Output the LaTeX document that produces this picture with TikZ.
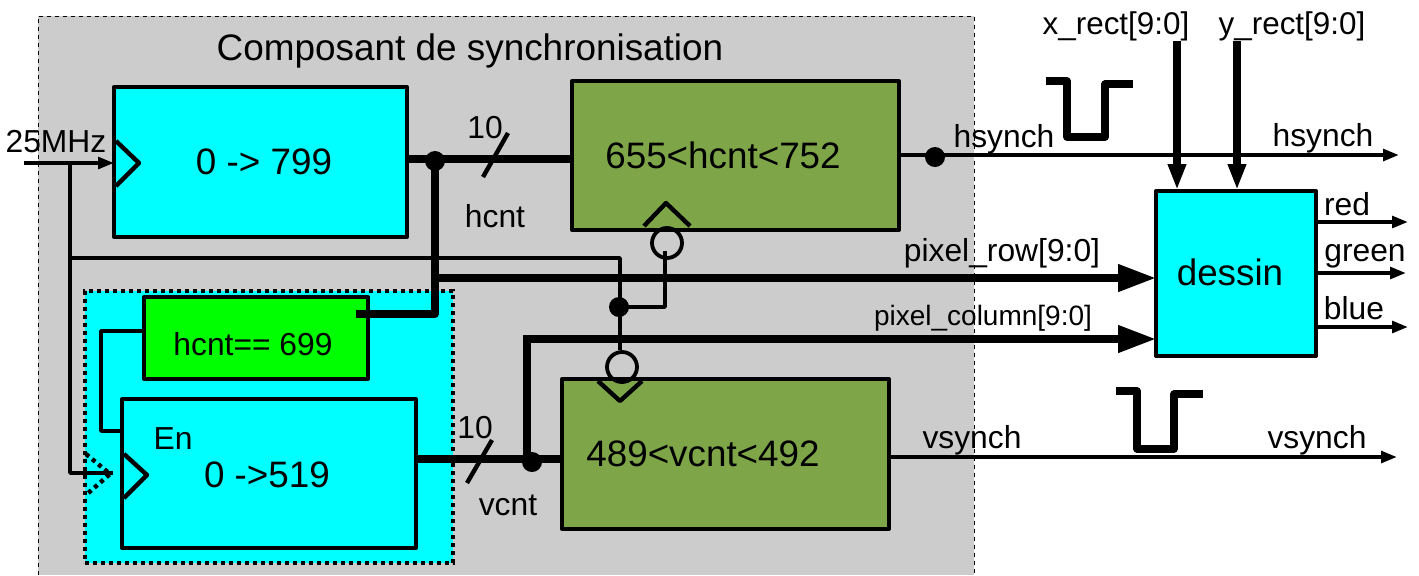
\documentclass[tikz,border=0pt]{standalone}
\usepackage{fontspec}
\setmainfont{Liberation Sans}
\usetikzlibrary{arrows.meta}
\definecolor{cyanb}{RGB}{0,255,255}
\definecolor{greyb}{RGB}{204,204,204}
\definecolor{oliveb}{RGB}{126,166,72}
\definecolor{greenb}{RGB}{0,255,0}
\begin{document}
\begin{tikzpicture}[x=0.5pt,y=-0.5pt,
  blk/.style={draw=black,line width=2pt,line join=round,inner sep=0pt,outer sep=0pt,anchor=north west},
  thinw/.style={line width=1.9pt,line join=round},
  midw/.style={line width=2.2pt,line join=round},
  busw/.style={line width=3.7pt,line join=round},
  sig/.style={line width=1.9pt,-{Stealth[length=8pt,width=5.8pt,inset=0pt]}},
  bigsig/.style={line width=3.7pt,-{Stealth[length=19pt,width=13pt,inset=0pt]}},
  downsig/.style={line width=3.9pt,-{Stealth[length=13pt,width=8.5pt,inset=0pt]}},
  pulse/.style={line width=3.6pt,line join=round},
  lab/.style={inner sep=0pt,font=\fontsize{15.9pt}{18pt}\selectfont},
  big/.style={inner sep=0pt,font=\fontsize{18.4pt}{20pt}\selectfont},
  dot/.style={circle,fill=black,inner sep=0pt,minimum size=10pt},
  bub/.style={circle,draw=black,line width=1.9pt,inner sep=0pt,minimum size=15pt,fill=none}]
\useasboundingbox (0,0) rectangle (1419,575);
% backgrounds
\fill[greyb] (38,16) rectangle (974,575);
\draw[line width=0.5pt,dash pattern=on 2pt off 2pt] (38,575) -- (38,16) -- (974,16) -- (974,575);
\node[inner sep=0pt,font=\fontsize{18.45pt}{20pt}\selectfont] (title) at (470,51) {Composant de synchronisation};
\node[draw=black,line width=2pt,dash pattern=on 2pt off 2pt,fill=cyanb,inner sep=0pt,outer sep=0pt,anchor=north west,minimum width=184pt,minimum height=136pt] (en) at (85,291) {};
% blocks
\node[blk,fill=cyanb,minimum width=146.5pt,minimum height=75pt] (cnt1) at (114,87) {};
\node[blk,fill=oliveb,minimum width=163.5pt,minimum height=74.5pt] (cmp1) at (572,81) {};
\node[blk,fill=greenb,minimum width=112pt,minimum height=41pt] (eq) at (144,297) {};
\node[blk,fill=cyanb,minimum width=147pt,minimum height=74.5pt] (cnt2) at (122,399) {};
\node[blk,fill=oliveb,minimum width=163.5pt,minimum height=75pt] (cmp2) at (562,379) {};
\node[blk,fill=cyanb,minimum width=80pt,minimum height=82.5pt] (des) at (1156,191) {};
% labels in blocks
\node[big] (t1) at (264,162) {0 -> 799};
\node[big] (t2) at (723,155) {655<hcnt<752};
\node[lab] (t3) at (253,344) {hcnt== 699};
\node[lab] (t4) at (173,439) {En};
\node[big] (t5) at (267,475) {0 ->519};
\node[big] (t6) at (703,454) {489<vcnt<492};
\node[big] (t7) at (1230,272) {dessin};
% clock triangles
\draw[midw] (116,141) -- (139,163) -- (116,186);
\draw[midw] (124,454) -- (147,475) -- (124,498);
\draw[line width=2.2pt,dash pattern=on 2pt off 2pt] (86,454) -- (110,474) -- (86,495);
\draw[midw] (644,226) -- (666,203) -- (690,226);
\draw[midw] (598,381) -- (620,401) -- (642,381);
% nodes on wires
\coordinate (clkin) at (24,163);
\node[dot] (d1) at (435,161) {};
\node[dot] (d2) at (619,307) {};
\node[dot] (d3) at (532,462) {};
\node[dot] (d4) at (935,157) {};
\node[bub] (b1) at (667,243) {};
\node[bub] (b2) at (622,367) {};
% clock
\draw[sig] (clkin) -- (cnt1.west |- clkin);
\draw[thinw] (70,163) -- (70,473) -- (113,473);
\draw[thinw] (70,258) -- (620,258) -- (620,350);
\draw[thinw] (d2.center) -- (665,307) -- (665,251);
% buses
\draw[busw] (cnt1.east |- 0,159) -- (cmp1.west |- 0,159);
\draw[busw] (d1.center) -- (435,314) -- (356,314);
\draw[bigsig] (435,278) -- (des.west |- 0,278);
\draw[bigsig] (d3.center -| 527,0) -- (527,339) -- (des.west |- 0,339);
\draw[busw] (cnt2.east |- 0,459) -- (cmp2.west |- 0,459);
\draw[midw] (483,177) -- (508,133);
\draw[midw] (467,483) -- (492,440);
\draw[thinw] (eq.west |- 0,331) -- (101,331) -- (101,431) -- (cnt2.west |- 0,431);
% outputs
\draw[sig] (cmp1.east |- 0,155) -- (1399,155);
\draw[sig] (cmp2.east |- 0,457) -- (1397,457);
\draw[sig] (des.east |- 0,222) -- (1408,222);
\draw[sig] (des.east |- 0,273) -- (1406,273);
\draw[sig] (1314,327) -- (1408,327);
\draw[downsig] (1177,41) -- (1177,190);
\draw[downsig] (1237,41) -- (1237,190);
% pulses
\draw[pulse] (1046,81) -- (1067,81) -- (1067,137) -- (1105,137) -- (1105,84) -- (1133,84);
\draw[pulse] (1116,391) -- (1137,391) -- (1137,449) -- (1174,449) -- (1174,394) -- (1203,394);
% text
\node[lab] (l1) at (56,142) {25MHz};
\node[lab] (l2) at (485,128) {10};
\node[lab] (l3) at (495,216) {hcnt};
\node[lab] (l4) at (475,428) {10};
\node[lab] (l5) at (508,505) {vcnt};
\node[lab] (l6) at (1004,139) {hsynch};
\node[lab] (l7) at (1323,138) {hsynch};
\node[lab] (l8) at (1002,253) {pixel\_row[9:0]};
\node[inner sep=0pt,font=\fontsize{14pt}{16pt}\selectfont] (l9) at (983,318) {pixel\_column[9:0]};
\node[lab] (l10) at (972,440) {vsynch};
\node[lab] (l11) at (1317,440) {vsynch};
\node[inner sep=0pt,font=\fontsize{15.7pt}{18pt}\selectfont] (l12) at (1116,26) {x\_rect[9:0]};
\node[inner sep=0pt,font=\fontsize{15.7pt}{18pt}\selectfont] (l13) at (1292,26) {y\_rect[9:0]};
\node[lab] (l14) at (1347,204) {red};
\node[lab] (l15) at (1365,256) {green};
\node[lab] (l16) at (1354,308) {blue};
\end{tikzpicture}
\end{document}
